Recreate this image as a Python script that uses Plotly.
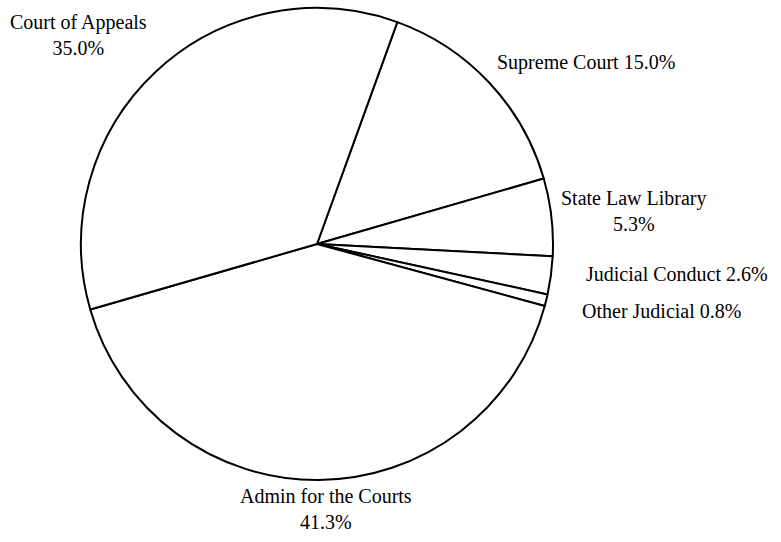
import plotly.graph_objects as go

# Data (clockwise order starting from the Supreme Court slice)
labels = ["Supreme Court", "State Law Library", "Judicial Conduct", "Other Judicial",
          "Admin for the Courts", "Court of Appeals"]
percents = [15.0, 5.3, 2.6, 0.8, 41.3, 35.0]

# Label layout (style only): separator between name and value, and pixel anchor centers
separators = [" ", "<br>", " ", " ", "<br>", "<br>"]
label_px = [(585.5, 62), (634, 211), (677, 274), (661, 311), (326, 509), (78, 35)]

W, H = 781, 542

fig = go.Figure(go.Pie(
    labels=labels,
    values=percents,
    sort=False,
    direction="clockwise",
    rotation=19.9,
    textinfo="none",
    hoverinfo="label+percent",
    marker=dict(colors=["white"] * len(labels), line=dict(color="black", width=2)),
    domain=dict(x=[81 / W, 553 / W], y=[1 - 480 / H, 1 - 8 / H]),
    showlegend=False,
))

annotations = []
for lab, pct, sep, (px, py) in zip(labels, percents, separators, label_px):
    annotations.append(dict(
        text=f"{lab}{sep}{pct:.1f}%",
        x=px / W, y=1 - py / H, xref="paper", yref="paper",
        xanchor="center", yanchor="middle", showarrow=False,
        align="center",
        font=dict(family="Liberation Serif", size=20, color="black"),
    ))

fig.update_layout(
    width=W, height=H,
    margin=dict(l=0, r=0, t=0, b=0),
    paper_bgcolor="white", plot_bgcolor="white",
    annotations=annotations,
)

fig.write_html(
    "out.html",
    config={"displayModeBar": False},
    post_script="document.body.style.margin='0';document.body.style.overflow='hidden';",
)
